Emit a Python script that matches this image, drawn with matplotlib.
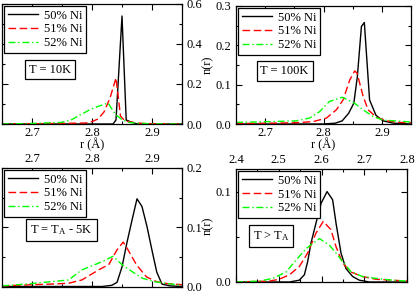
import matplotlib
matplotlib.use("Agg")
import matplotlib.pyplot as plt
from matplotlib.ticker import MultipleLocator

plt.rcParams['font.family'] = ['Liberation Serif', 'DejaVu Serif']
plt.rcParams['font.size'] = 9
plt.rcParams['mathtext.default'] = 'regular'

# series labels
labels = ["50% Ni", "51% Ni", "52% Ni"]

# T = 10K
r10_50 = [2.65, 2.835, 2.84, 2.85, 2.857, 2.865, 2.875, 2.95]
n10_50 = [0.0, 0.0, 0.02, 0.54, 0.02, 0.01, 0.0, 0.0]
r10_51 = [2.65, 2.70, 2.75, 2.79, 2.80, 2.81, 2.82, 2.83, 2.84, 2.8475, 2.855, 2.865, 2.875, 2.89, 2.95]
n10_51 = [0.0, 0.001, 0.003, 0.005, 0.012, 0.025, 0.06, 0.13, 0.23, 0.04, 0.015, 0.01, 0.005, 0.002, 0.0]
r10_52 = [2.65, 2.70, 2.75, 2.765, 2.78, 2.797, 2.81, 2.827, 2.832, 2.84, 2.851, 2.862, 2.875, 2.90, 2.95]
n10_52 = [0.0, 0.003, 0.008, 0.02, 0.045, 0.072, 0.088, 0.105, 0.08, 0.045, 0.02, 0.008, 0.004, 0.001, 0.0]

# T = 100K
r100_50 = [2.65, 2.80, 2.82, 2.832, 2.843, 2.852, 2.858, 2.865, 2.87, 2.879, 2.89, 2.902, 2.92, 2.95]
n100_50 = [0.0, 0.0, 0.002, 0.008, 0.027, 0.053, 0.12, 0.248, 0.258, 0.061, 0.022, 0.008, 0.002, 0.0]
r100_51 = [2.65, 2.70, 2.75, 2.782, 2.805, 2.822, 2.8335, 2.845, 2.8535, 2.8576, 2.868, 2.8765, 2.891, 2.908, 2.93, 2.95]
n100_51 = [0.001, 0.002, 0.003, 0.006, 0.015, 0.036, 0.061, 0.112, 0.135, 0.129, 0.07, 0.036, 0.017, 0.008, 0.004, 0.003]
r100_52 = [2.65, 2.707, 2.753, 2.776, 2.793, 2.81, 2.832, 2.853, 2.868, 2.885, 2.902, 2.931, 2.95]
n100_52 = [0.004, 0.006, 0.008, 0.015, 0.031, 0.057, 0.068, 0.053, 0.036, 0.019, 0.01, 0.007, 0.005]

# T = TA - 5K
rta_50 = [2.65, 2.817, 2.833, 2.8417, 2.85, 2.858, 2.8667, 2.875, 2.8833, 2.8917, 2.90, 2.908, 2.9167, 2.93, 2.95]
nta_50 = [0.0, 0.0, 0.002, 0.007, 0.033, 0.073, 0.112, 0.148, 0.135, 0.101, 0.061, 0.024, 0.004, 0.001, 0.0]
rta_51 = [2.65, 2.70, 2.73, 2.761, 2.783, 2.811, 2.828, 2.8417, 2.852, 2.8605, 2.8745, 2.891, 2.908, 2.925, 2.95]
nta_51 = [0.001, 0.003, 0.004, 0.0055, 0.011, 0.028, 0.037, 0.062, 0.075, 0.061, 0.036, 0.016, 0.008, 0.005, 0.003]
rta_52 = [2.65, 2.70, 2.73, 2.761, 2.783, 2.817, 2.835, 2.85, 2.867, 2.884, 2.905, 2.933, 2.95]
nta_52 = [0.001, 0.005, 0.008, 0.011, 0.028, 0.042, 0.051, 0.037, 0.025, 0.014, 0.008, 0.004, 0.002]

# T > TA
rhi_50 = [2.40, 2.525, 2.548, 2.56, 2.5676, 2.5754, 2.587, 2.599, 2.613, 2.626, 2.634, 2.6456, 2.657, 2.673, 2.6885, 2.712, 2.80]
nhi_50 = [0.0, 0.0, 0.002, 0.008, 0.0225, 0.043, 0.065, 0.087, 0.1, 0.091, 0.065, 0.032, 0.015, 0.006, 0.002, 0.0, 0.0]
rhi_51 = [2.40, 2.478, 2.501, 2.525, 2.548, 2.5676, 2.587, 2.604, 2.622, 2.634, 2.6495, 2.669, 2.696, 2.7275, 2.766, 2.80]
nhi_51 = [0.0, 0.001, 0.003, 0.008, 0.017, 0.032, 0.054, 0.067, 0.058, 0.039, 0.021, 0.011, 0.006, 0.003, 0.002, 0.001]
rhi_52 = [2.40, 2.455, 2.486, 2.517, 2.54, 2.564, 2.595, 2.618, 2.634, 2.6495, 2.669, 2.696, 2.7275, 2.766, 2.80]
nhi_52 = [0.0, 0.001, 0.004, 0.011, 0.024, 0.037, 0.048, 0.041, 0.032, 0.0225, 0.0114, 0.006, 0.004, 0.002, 0.001]

W, H = 415, 293
fig = plt.figure(figsize=(W / 100, H / 100), dpi=100)


def px_axes(l, t, r, b):
    return fig.add_axes([l / W, 1 - b / H, (r - l) / W, (b - t) / H])


def draw(ax, curves, xlim, ylim, xmaj, ymaj, ymin, label):
    styles = [dict(color='black', ls='-'),
              dict(color='red', ls=(0, (5.5, 2.5))),
              dict(color='#00ff00', ls=(0, (5, 2, 1, 2)))]
    for (r, n), lab, st in zip(curves, labels, styles):
        ax.plot(r, n, lw=1.0, label=lab, **st)
    ax.set_xlim(*xlim)
    ax.set_ylim(*ylim)
    ax.xaxis.set_major_locator(MultipleLocator(xmaj))
    ax.xaxis.set_minor_locator(MultipleLocator(xmaj / 2))
    ax.yaxis.set_major_locator(MultipleLocator(ymaj))
    ax.yaxis.set_minor_locator(MultipleLocator(ymin))
    ax.tick_params(which='both', direction='in', top=True, bottom=True, left=True, right=True,
                   labelsize=9, width=0.8)
    ax.tick_params(which='major', length=4)
    ax.tick_params(which='minor', length=2.5)
    for s in ax.spines.values():
        s.set_linewidth(0.9)
    leg = ax.legend(loc='upper left', borderaxespad=0.15, fancybox=False, edgecolor='black',
                    framealpha=1, handlelength=2.4, handletextpad=0.5, labelspacing=0.15,
                    borderpad=0.3, fontsize=9)
    leg.get_frame().set_linewidth(0.9)
    ax.text(*label[1:], label[0], transform=ax.transAxes, ha='center', va='center', fontsize=9,
            bbox=dict(boxstyle='square,pad=0.3', fc='white', ec='black', lw=0.9))


ax1 = px_axes(2, 4, 182, 124)
draw(ax1, [(r10_50, n10_50), (r10_51, n10_51), (r10_52, n10_52)],
     (2.65, 2.95), (0, 0.6), 0.1, 0.2, 0.1, ("T = 10K", 0.267, 0.454))
ax1.tick_params(labelleft=False, labelright=True)
ax1.tick_params(axis='x', pad=2.5)
ax1.set_xlabel("r (Å)", labelpad=-1)

ax2 = px_axes(236, 6, 411, 124)
draw(ax2, [(r100_50, n100_50), (r100_51, n100_51), (r100_52, n100_52)],
     (2.65, 2.95), (0, 0.3), 0.1, 0.1, 0.05, ("T = 100K", 0.278, 0.449))
ax2.tick_params(axis='x', pad=2.5)
ax2.set_xlabel("r (Å)", labelpad=-1)
ax2.set_ylabel("n(r)", labelpad=1)

# bottom row shares the r label printed between the rows
ax3 = px_axes(2, 168, 182, 286.5)
draw(ax3, [(rta_50, nta_50), (rta_51, nta_51), (rta_52, nta_52)],
     (2.65, 2.95), (0, 0.2), 0.1, 0.1, 0.05, ("T = T$_{A}$ - 5K", 0.33, 0.477))
ax3.tick_params(labelleft=False, labelright=True, labelbottom=False, labeltop=True)
ax3.tick_params(axis='x', pad=2.5)

ax4 = px_axes(236, 169, 407, 282)
draw(ax4, [(rhi_50, nhi_50), (rhi_51, nhi_51), (rhi_52, nhi_52)],
     (2.4, 2.8), (0, 0.125), 0.1, 0.1, 0.05, ("T > T$_{A}$", 0.206, 0.407))
ax4.tick_params(labelbottom=False, labeltop=True)
ax4.tick_params(axis='x', pad=2.5)
ax4.set_ylabel("n(r)", labelpad=1)

fig.savefig("out.png", dpi=100)
